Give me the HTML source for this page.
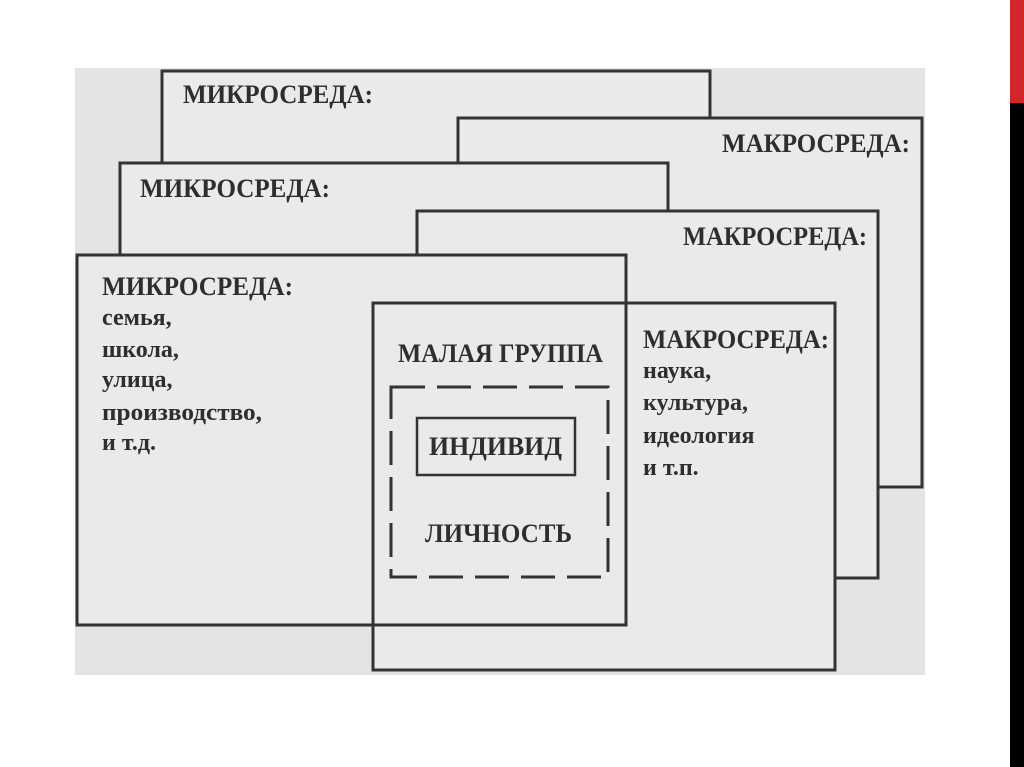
<!DOCTYPE html>
<html><head><meta charset="utf-8"><style>
html,body{margin:0;padding:0;background:#fff;}
body{width:1024px;height:767px;position:relative;overflow:hidden;}
svg{position:absolute;left:0;top:0;}
text{font-family:"Liberation Serif",serif;font-weight:bold;fill:#2e2e2e;}
.h{font-size:26px;}
.l{font-size:24px;}
</style></head><body>
<svg width="1024" height="767" viewBox="0 0 1024 767">
<rect x="1010" y="0" width="14" height="103" fill="#d3262c"/>
<rect x="1010" y="103" width="14" height="664" fill="#000"/>
<rect x="75" y="68" width="850" height="607" fill="#e4e4e4"/>
<g stroke="#333" stroke-width="3" fill="#eaeaea">
<rect x="162" y="71" width="548" height="200"/>
<rect x="458" y="118" width="464" height="369"/>
<rect x="120" y="163" width="548" height="200"/>
<rect x="417" y="211" width="461" height="367"/>
<rect x="77" y="255" width="549" height="370"/>
<rect x="373" y="303" width="462" height="367"/>
<rect x="77" y="255" width="549" height="370" fill="none"/>
<rect x="417" y="418" width="158" height="57" fill="none" stroke-width="2.5"/>
<rect x="391" y="387" width="217" height="190" fill="none" stroke-dasharray="34 12" stroke-width="3"/>
</g>
<text class="h" x="183" y="103" textLength="190" lengthAdjust="spacingAndGlyphs">МИКРОСРЕДА:</text>
<text class="h" x="140" y="197" textLength="190" lengthAdjust="spacingAndGlyphs">МИКРОСРЕДА:</text>
<text class="h" x="102" y="295" textLength="191" lengthAdjust="spacingAndGlyphs">МИКРОСРЕДА:</text>
<text class="l" x="102" y="325">семья,</text>
<text class="l" x="102" y="357">школа,</text>
<text class="l" x="102" y="387">улица,</text>
<text class="l" x="102" y="420" textLength="160" lengthAdjust="spacingAndGlyphs">производство,</text>
<text class="l" x="102" y="450">и т.д.</text>
<text class="h" x="722" y="152" textLength="188" lengthAdjust="spacingAndGlyphs">МАКРОСРЕДА:</text>
<text class="h" x="683" y="245" textLength="184" lengthAdjust="spacingAndGlyphs">МАКРОСРЕДА:</text>
<text class="h" x="643" y="348" textLength="186" lengthAdjust="spacingAndGlyphs">МАКРОСРЕДА:</text>
<text class="l" x="643" y="378">наука,</text>
<text class="l" x="643" y="410">культура,</text>
<text class="l" x="643" y="443">идеология</text>
<text class="l" x="643" y="475">и т.п.</text>
<text class="h" x="398" y="362" textLength="205" lengthAdjust="spacingAndGlyphs">МАЛАЯ ГРУППА</text>
<text class="h" x="429" y="455" textLength="133" lengthAdjust="spacingAndGlyphs">ИНДИВИД</text>
<text class="h" x="425" y="542" textLength="147" lengthAdjust="spacingAndGlyphs">ЛИЧНОСТЬ</text>
</svg>
</body></html>
